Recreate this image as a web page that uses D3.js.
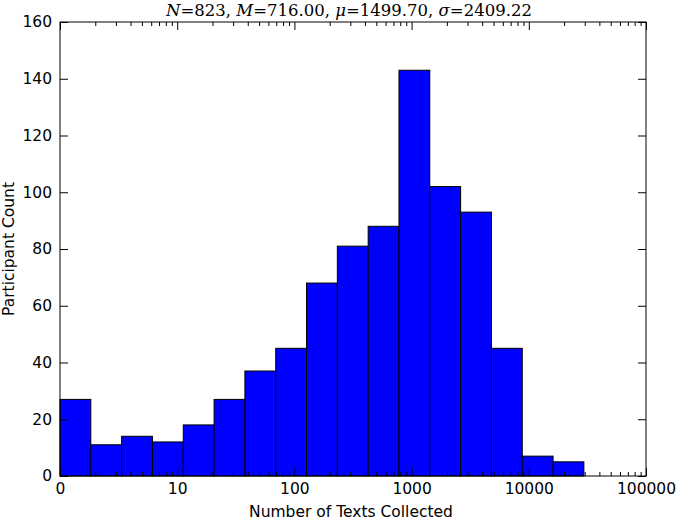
<!DOCTYPE html>
<html><head><meta charset="utf-8">
<script src="https://cdn.jsdelivr.net/npm/d3@7"></script>
<style>body{margin:0;background:#fff}svg{display:block}</style>
</head><body>
<script>
// Data (x in log10 units)
const counts = [27, 11, 14, 12, 18, 27, 37, 45, 68, 81, 88, 143, 102, 93, 45, 7, 5];
const logMax = 4.47;
const xTickValues = [0, 1, 2, 3, 4, 5];
const xTickLabels = ["0", "10", "100", "1000", "10000", "100000"];
const yTickValues = [0, 20, 40, 60, 80, 100, 120, 140, 160];
const titleParts = [["N", true], ["=823, ", false], ["M", true], ["=716.00, ", false], ["μ", true], ["=1499.70, ", false], ["σ", true], ["=2409.22", false]];
const xLabel = "Number of Texts Collected";
const yLabel = "Participant Count";

const W = 677, H = 520;
const L = 60, R = 646, T = 22, B = 476;
const svg = d3.select("body").append("svg").attr("width", W).attr("height", H);
const x = d3.scaleLinear().domain([0, 5]).range([L, R]);
const y = d3.scaleLinear().domain([0, 160]).range([B, T]);
const bw = logMax / counts.length;
const bins = counts.map((c, i) => ({x0: i * bw, x1: (i + 1) * bw, c}));

svg.append("g").selectAll("rect").data(bins).join("rect")
  .attr("x", d => x(d.x0)).attr("width", d => x(d.x1) - x(d.x0))
  .attr("y", d => y(d.c)).attr("height", d => y(0) - y(d.c))
  .attr("fill", "#0000ff").attr("stroke", "#000").attr("stroke-width", 1);

// minor log ticks
const minor = [];
for (let dcd = 0; dcd < 5; dcd++) for (let k = 2; k <= 9; k++) minor.push(dcd + Math.log10(k));

const tickFont = "DejaVu Sans, sans-serif";
// bottom axis
const xb = d3.axisBottom(x).tickValues(xTickValues).tickFormat((d, i) => xTickLabels[i]).tickSizeInner(-8).tickSizeOuter(0).tickPadding(7);
svg.append("g").attr("transform", `translate(0,${B})`).call(xb);
const xbm = d3.axisBottom(x).tickValues(minor).tickFormat("").tickSizeInner(-4).tickSizeOuter(0);
svg.append("g").attr("transform", `translate(0,${B})`).call(xbm);
// top axis
svg.append("g").attr("transform", `translate(0,${T})`).call(d3.axisTop(x).tickValues(xTickValues).tickFormat("").tickSizeInner(-8).tickSizeOuter(0));
svg.append("g").attr("transform", `translate(0,${T})`).call(d3.axisTop(x).tickValues(minor).tickFormat("").tickSizeInner(-4).tickSizeOuter(0));
// left axis
svg.append("g").attr("transform", `translate(${L},0)`).call(d3.axisLeft(y).tickValues(yTickValues).tickSizeInner(-8).tickSizeOuter(0).tickPadding(8));
// right axis
svg.append("g").attr("transform", `translate(${R},0)`).call(d3.axisRight(y).tickValues(yTickValues).tickFormat("").tickSizeInner(-8).tickSizeOuter(0));

svg.selectAll(".domain").remove();
svg.selectAll(".tick line").attr("stroke", "#000").attr("stroke-width", 1);
svg.selectAll(".tick text").attr("font-family", tickFont).attr("font-size", 15.5).attr("fill", "#000");

// frame
svg.append("rect").attr("x", L).attr("y", T).attr("width", R - L).attr("height", B - T)
  .attr("fill", "none").attr("stroke", "#000").attr("stroke-width", 1);

// title
const title = svg.append("text").attr("x", (L + R) / 2 - 4).attr("y", 16).attr("text-anchor", "middle")
  .attr("font-family", "DejaVu Serif, serif").attr("font-size", 16.5).attr("fill", "#000");
titleParts.forEach(([t, it]) => title.append("tspan").text(t).attr("font-style", it ? "italic" : "normal"));

svg.append("text").attr("x", (L + R) / 2 - 2).attr("y", 517).attr("text-anchor", "middle")
  .attr("font-family", tickFont).attr("font-size", 15.5).attr("fill", "#000").text(xLabel);
svg.append("text").attr("transform", `translate(14,${(T + B) / 2}) rotate(-90)`).attr("text-anchor", "middle")
  .attr("font-family", tickFont).attr("font-size", 15.5).attr("fill", "#000").text(yLabel);
</script>
</body></html>
